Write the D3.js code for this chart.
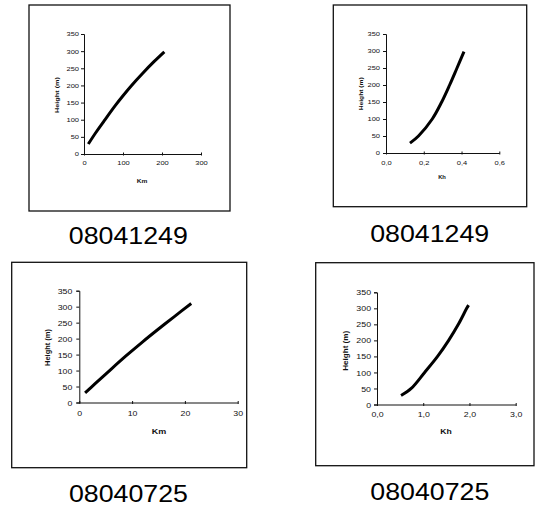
<!DOCTYPE html>
<html><head><meta charset="utf-8">
<script src="https://cdn.jsdelivr.net/npm/d3@7"></script>
<style>
body{margin:0;background:#fff;}
svg text{font-family:"Liberation Sans",Arial,sans-serif;fill:#111;}
</style></head><body>
<svg id="c" width="537" height="506"></svg>
<script>
// ---- data ----
const heightTicks = [0,50,100,150,200,250,300,350];
// panel 1 : 08041249, Km
const km1 = [11,30,50,80,100,122,150,180,206];
const hKm1 = [29,62,94,141,170,200,235,270,298];
const kmTicks1 = [0,100,200,300];
// panel 2 : 08041249, Kh
const kh1 = [0.127,0.172,0.245,0.295,0.337,0.376,0.413];
const hKh1 = [29,50,100,150,200,250,298];
const khTicks1 = [0,0.2,0.4,0.6];
// panel 3 : 08040725, Km
const km2 = [1.1,3,6,9,12,15,18,21.2];
const hKm2 = [30,59,104,148,190,230,269,310];
const kmTicks2 = [0,10,20,30];
// panel 4 : 08040725, Kh
const kh2 = [0.52,0.74,1.03,1.31,1.55,1.76,1.94,1.98];
const hKh2 = [28,50,100,150,200,250,300,310];
const khTicks2 = [0,1,2,3];
const captions = ["08041249","08041249","08040725","08040725"];
const xTitles = ["Km","Kh","Km","Kh"];
const yTitle = "Height (m)";

const comma = d3.formatLocale({decimal:",",thousands:".",grouping:[3],currency:["",""]});

const svg = d3.select("#c");

const panels = [
  {xs:km1, ys:hKm1, xt:kmTicks1, xd:[0,300], fmt:d3.format("d"),
   box:[29,5,230,211], xr:[84,201], yr:[154,34], fs:6, sx:1.25, gap:5, xlb:11,
   xTitle:[142,182.7], xTitleLen:10.6, yTitle:[57,95], yTitleLen:36, tfs:6,
   cap:[128.3,244.3]},
  {xs:kh1, ys:hKh1, xt:khTicks1, xd:[0,0.6], fmt:comma.format(".1f"),
   box:[333.3,5,526.7,206.7], xr:[386,499.3], yr:[153,34], fs:6, sx:1.25, gap:6, xlb:12,
   xTitle:[442,179], xTitleLen:7.7, yTitle:[360.8,93.8], yTitleLen:33, tfs:6,
   cap:[429.7,241.7]},
  {xs:km2, ys:hKm2, xt:kmTicks2, xd:[0,30], fmt:d3.format("d"),
   box:[11.7,262.3,246.7,467.7], xr:[79.3,237.7], yr:[402.5,290.7], fs:8, sx:1.1, gap:7, xlb:14,
   xTitle:[159,434], xTitleLen:14.5, yTitle:[46.7,347.5], yTitleLen:37, tfs:8,
   cap:[128.5,501.7]},
  {xs:kh2, ys:hKh2, xt:khTicks2, xd:[0,3], fmt:comma.format(".1f"),
   box:[315.7,262.7,534,465.7], xr:[377,515.7], yr:[404.5,292.3], fs:8, sx:1.1, gap:6, xlb:13,
   xTitle:[446,434], xTitleLen:11.5, yTitle:[345,350.8], yTitleLen:40, tfs:8,
   cap:[429.8,499.7]}
];

panels.forEach((p,i)=>{
  const g = svg.append("g");
  // frame
  g.append("rect").attr("x",p.box[0]).attr("y",p.box[1])
    .attr("width",p.box[2]-p.box[0]).attr("height",p.box[3]-p.box[1])
    .attr("fill","none").attr("stroke","#111").attr("stroke-width",1.3);

  const x = d3.scaleLinear().domain(p.xd).range(p.xr);
  const y = d3.scaleLinear().domain([0,350]).range(p.yr);

  // y axis
  const ya = g.append("g").attr("transform",`translate(${p.xr[0]},0)`)
    .call(d3.axisLeft(y).tickValues(heightTicks).tickSize(3).tickPadding(2));
  ya.select(".domain").attr("stroke","#111");
  ya.selectAll(".tick line").attr("stroke","#111");
  ya.selectAll(".tick text").attr("font-size",p.fs).attr("font-family",null)
    .attr("x",-p.gap/p.sx).attr("transform",`scale(${p.sx},1)`);

  // x axis
  const xa = g.append("g").attr("transform",`translate(0,${p.yr[0]})`)
    .call(d3.axisBottom(x).tickValues(p.xt).tickFormat(p.fmt).tickSize(2).tickSizeOuter(0));
  xa.select(".domain").attr("stroke","#111");
  xa.selectAll(".tick line").attr("stroke","#111").attr("y1",-1.5).attr("y2",1.5);
  xa.selectAll(".tick text").attr("font-size",p.fs).attr("font-family",null)
    .attr("y",p.xlb).attr("dy",0).attr("transform",`scale(${p.sx},1)`);

  // titles
  g.append("text").attr("x",p.xTitle[0]).attr("y",p.xTitle[1])
    .attr("text-anchor","middle").attr("font-weight","bold").attr("font-size",p.tfs)
    .attr("textLength",p.xTitleLen).attr("lengthAdjust","spacingAndGlyphs")
    .text(xTitles[i]);
  g.append("text").attr("transform",`translate(${p.yTitle[0]+p.tfs*0.36},${p.yTitle[1]}) rotate(-90)`)
    .attr("text-anchor","middle").attr("font-weight","bold").attr("font-size",p.tfs)
    .attr("textLength",p.yTitleLen).attr("lengthAdjust","spacingAndGlyphs")
    .text(yTitle);

  // curve
  const pts = p.xs.map((v,k)=>[v,p.ys[k]]);
  g.append("path").datum(pts)
    .attr("d", d3.line().x(d=>x(d[0])).y(d=>y(d[1])).curve(d3.curveCatmullRom.alpha(0.5)))
    .attr("fill","none").attr("stroke","#000").attr("stroke-width",3)
    .attr("stroke-linecap","butt").attr("stroke-linejoin","round");

  // caption
  svg.append("text").attr("x",p.cap[0]).attr("y",p.cap[1])
    .attr("text-anchor","middle").attr("font-size",24.5)
    .attr("textLength",119).attr("lengthAdjust","spacingAndGlyphs")
    .style("fill","#000").text(captions[i]);
});
</script>
</body></html>
